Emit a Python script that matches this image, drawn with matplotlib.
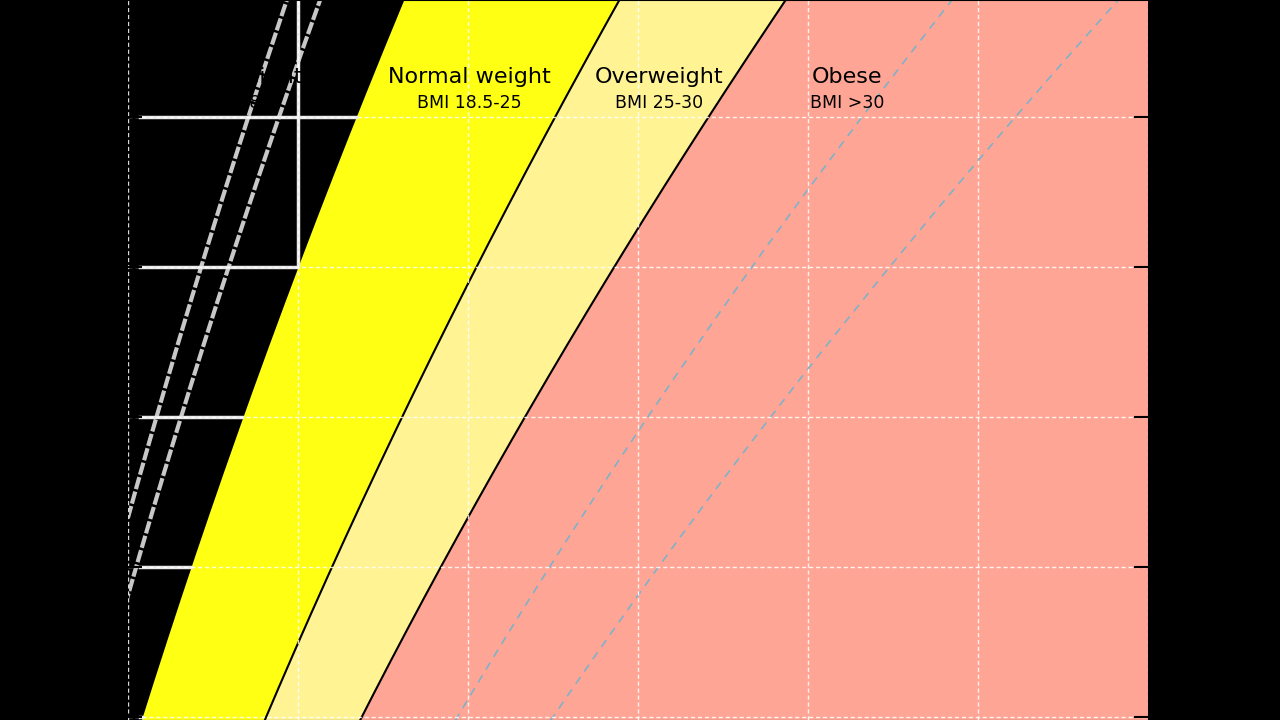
import numpy as np
import matplotlib.pyplot as plt

# BMI class limits and extra guide lines
bmi_limits = [18.5, 25, 30]
zone_colors = ["#ffff14", "#fff394", "#ffa595"]
guide_high = [35, 40]
guide_low = [15, 16]

labels = ["Underweight", "Normal weight", "Overweight", "Obese"]
sublabels = ["BMI <18.5", "BMI 18.5-25", "BMI 25-30", "BMI >30"]
label_x = [52.2, 80.2, 102.5, 124.6]

weight_ticks = [40, 60, 80, 100, 120, 140, 160]
height_ticks = [1.5, 1.6, 1.7, 1.8, 1.9]

h = np.linspace(1.4, 2.1, 200)

fig = plt.figure(figsize=(12.8, 7.2), dpi=100, facecolor="black")
ax = fig.add_axes([128 / 1280, 0, 1020 / 1280, 1])
ax.set_facecolor("none")

w = [b * h ** 2 for b in bmi_limits] + [np.full_like(h, 200.0)]
for i, c in enumerate(zone_colors):
    ax.fill_betweenx(h, w[i], w[i + 1], color=c, lw=0, zorder=1)
for b in bmi_limits:
    ax.plot(b * h ** 2, h, color="black", lw=1.5, zorder=2)
for b in guide_high:
    ax.plot(b * h ** 2, h, color="#7fb2c9", lw=1.2, ls=(0, (5, 4)), zorder=2)
for b in guide_low:
    ax.plot(b * h ** 2, h, color="#c8c8c8", lw=3, ls=(0, (3, 0.6)), zorder=2)

# grid looks solid inside the underweight (uncoloured) zone
for hy in height_ticks:
    ax.plot([41.4, bmi_limits[0] * hy ** 2], [hy, hy], color="#e8e8e8", lw=2.5, zorder=2)
for wx in weight_ticks[1:]:
    h0 = np.sqrt(wx / bmi_limits[0])
    ax.plot([wx, wx], [h0, 2.1], color="#e8e8e8", lw=2.5, zorder=2)

ax.set_xticks(weight_ticks)
ax.set_yticks(height_ticks)
ax.set_xlim(40, 160)
ax.set_ylim(1.498, 1.978)
ax.tick_params(direction="in", length=10, width=1.5, color="black",
               left=True, right=True, bottom=False,
               labelleft=False, labelbottom=False)
ax.set_axisbelow(False)
ax.grid(True, color="white", alpha=0.85, lw=1, ls=(0, (3, 2)))
for s in ax.spines.values():
    s.set_color("black")

for x, t, st in zip(label_x, labels, sublabels):
    ax.text(x, 1.9267, t, ha="center", va="center", fontsize=16, color="black")
    ax.text(x, 1.9095, st, ha="center", va="center", fontsize=12.5, color="black")

fig.savefig("out.png", dpi=100, facecolor="black")
